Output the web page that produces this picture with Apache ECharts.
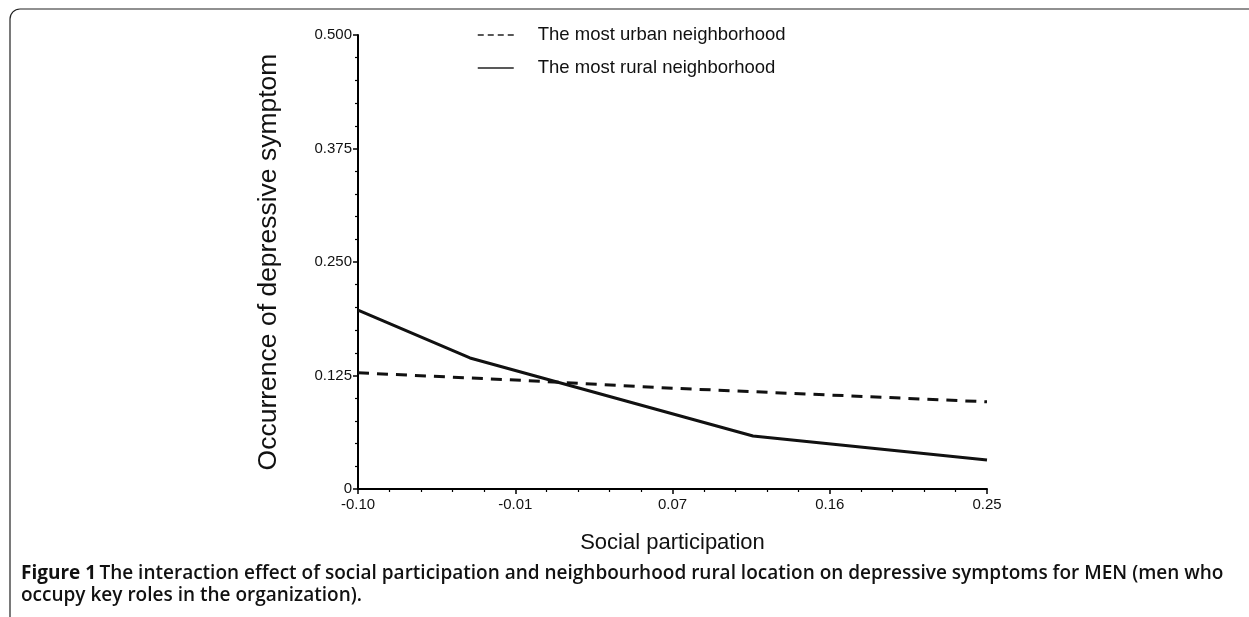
<!DOCTYPE html>
<html>
<head>
<meta charset="utf-8">
<script src="https://cdn.jsdelivr.net/npm/echarts@6/dist/echarts.min.js"></script>
<style>
  html, body { margin: 0; padding: 0; background: #fff; }
  #chart { width: 1249px; height: 617px; }
</style>
</head>
<body>
<div id="chart"></div>
<script>
// tick labels (axis is evenly split, labels are rounded)
const xTickValues = [-0.1, -0.0125, 0.075, 0.1625, 0.25]
const xTickLabels = ['-0.10', '-0.01', '0.07', '0.16', '0.25']
const yTickLabels = ['0', '0.125', '0.250', '0.375', '0.500']

const seriesNames = ['The most urban neighborhood', 'The most rural neighborhood']

// the most urban neighborhood (dashed)
const urbanX = [-0.1, -0.0125, 0.075, 0.1625, 0.25]
const urbanY = [0.128, 0.120, 0.111, 0.1035, 0.096]

// the most rural neighborhood (solid)
const ruralX = [-0.1, -0.0377, 0.1198, 0.25]
const ruralY = [0.197, 0.1443, 0.0584, 0.032]

const font = 'Liberation Sans, Arial, sans-serif'

// minor ticks: 5 subdivisions between labelled ticks
const xMinor = []
for (let i = 0; i < xTickValues.length - 1; i++) {
  const step = (xTickValues[i + 1] - xTickValues[i]) / 5
  for (let k = 1; k < 5; k++) xMinor.push(xTickValues[i] + step * k)
}

const chart = echarts.init(document.getElementById('chart'))

chart.setOption({
  backgroundColor: '#fff',
  animation: false,
  color: ['#111', '#111'],
  grid: { left: 358, right: 262, top: 35, bottom: 128 },
  legend: {
    orient: 'vertical',
    left: 477,
    top: 25,
    padding: 0,
    itemWidth: 36,
    itemHeight: 14,
    itemGap: 13,
    itemStyle: { opacity: 0 },
    textStyle: { fontFamily: font, fontSize: 18.5, color: '#111', lineHeight: 20, padding: [0, 0, 0, 19] },
    data: [
      { name: seriesNames[0], lineStyle: { type: [6, 4], width: 1.5, color: '#222' } },
      { name: seriesNames[1], lineStyle: { type: 'solid', width: 1.5, color: '#222' } }
    ]
  },
  xAxis: [
    {
      type: 'value',
      min: -0.1,
      max: 0.25,
      name: 'Social participation',
      nameLocation: 'middle',
      nameGap: 43,
      nameTextStyle: { fontFamily: font, fontSize: 22, color: '#111' },
      axisLine: { lineStyle: { color: '#000', width: 2 } },
      axisTick: { show: true, length: 5, customValues: xTickValues, lineStyle: { color: '#000', width: 1.5 } },
      axisLabel: {
        customValues: xTickValues,
        margin: 8,
        fontFamily: font,
        fontSize: 15,
        color: '#111',
        formatter: (v) => {
          const i = xTickValues.findIndex(t => Math.abs(t - v) < 1e-6)
          return i >= 0 ? xTickLabels[i] : ''
        }
      },
      splitLine: { show: false }
    },
    {
      type: 'value',
      min: -0.1,
      max: 0.25,
      position: 'bottom',
      axisLine: { show: false },
      axisTick: { show: true, length: 3, customValues: xMinor, lineStyle: { color: '#000', width: 1.2 } },
      axisLabel: { show: false },
      splitLine: { show: false }
    }
  ],
  yAxis: {
    type: 'value',
    min: 0,
    max: 0.5,
    interval: 0.125,
    name: 'Occurrence of depressive symptom',
    nameLocation: 'middle',
    nameGap: 76,
    nameTextStyle: { fontFamily: font, fontSize: 26.5, color: '#111' },
    axisLine: { show: true, onZero: false, lineStyle: { color: '#000', width: 2 } },
    axisTick: { show: true, length: 5, lineStyle: { color: '#000', width: 1.5 } },
    minorTick: { show: true, splitNumber: 5, length: 3, lineStyle: { color: '#000', width: 1.2 } },
    axisLabel: {
      margin: 6,
      fontFamily: font,
      fontSize: 15,
      color: '#111',
      formatter: (v) => yTickLabels[Math.round(v / 0.125)]
    },
    splitLine: { show: false }
  },
  series: [
    {
      name: seriesNames[0],
      type: 'line',
      symbol: 'none',
      data: urbanX.map((x, i) => [x, urbanY[i]]),
      lineStyle: { color: '#111', width: 3, type: [11, 8] }
    },
    {
      name: seriesNames[1],
      type: 'line',
      symbol: 'none',
      data: ruralX.map((x, i) => [x, ruralY[i]]),
      lineStyle: { color: '#111', width: 3, type: 'solid' }
    }
  ],
  graphic: [
    {
      type: 'rect',
      silent: true,
      shape: { x: 10, y: 9, width: 1400, height: 800, r: [10, 0, 0, 0] },
      style: { fill: 'none', stroke: '#222', lineWidth: 1.2 }
    },
    {
      type: 'text',
      left: 21,
      top: 564,
      silent: true,
      style: {
        text: '{b|Figure 1} {n|The interaction effect of social participation and neighbourhood rural location on depressive symptoms for MEN (men who}\n{n|occupy key roles in the organization).}',
        rich: {
          b: { fontFamily: 'Open Sans, sans-serif', fontSize: 19, fontWeight: 'bold', fill: '#111', lineHeight: 22 },
          n: { fontFamily: 'Open Sans, sans-serif', fontSize: 19, fontWeight: 600, fill: '#111', lineHeight: 22 }
        }
      }
    }
  ]
})
</script>
</body>
</html>
